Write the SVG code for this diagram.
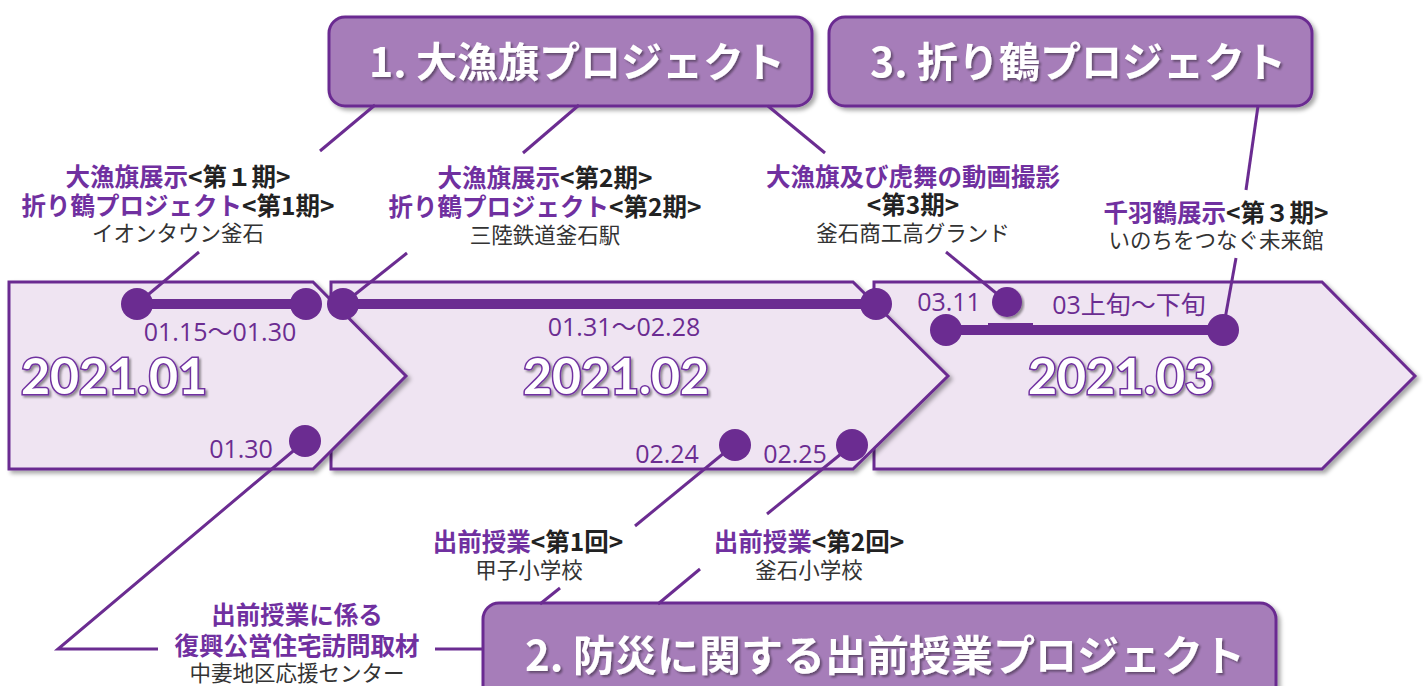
<svg xmlns="http://www.w3.org/2000/svg" width="1423" height="686" viewBox="0 0 1423 686">
<defs>
<filter id="sh" x="-5%" y="-5%" width="115%" height="120%"><feDropShadow dx="3" dy="3" stdDeviation="2" flood-color="#000" flood-opacity="0.35"/></filter>
<filter id="tsh" x="-5%" y="-10%" width="115%" height="130%"><feDropShadow dx="2" dy="2" stdDeviation="1" flood-color="#000" flood-opacity="0.4"/></filter>
</defs>
<style>
.chev{fill:#efe4f2;stroke:#6b2c91;stroke-width:3;stroke-linejoin:miter;filter:url(#sh)}
.ban{fill:#a67db9;stroke:#6b2c91;stroke-width:3;filter:url(#sh)}
.bt{font-family:"Noto Sans CJK JP",sans-serif;font-weight:700;fill:#fff;text-anchor:middle;filter:url(#tsh)}
.yr{font-family:Lato,"Open Sans",sans-serif;font-weight:700;font-size:50px;fill:#fff;stroke:#7030a0;stroke-width:3;paint-order:stroke;text-anchor:middle;filter:url(#tsh)}
.dt{font-family:"Open Sans","Noto Sans CJK JP",sans-serif;font-size:25px;fill:#6b2c91;text-anchor:middle}
.lb{font-family:"Noto Sans CJK JP",sans-serif;font-size:24.5px;font-weight:700;fill:#222;text-anchor:middle}
.p{fill:#7030a0}
.loc{font-family:"Noto Sans CJK JP",sans-serif;font-size:21.5px;fill:#333;text-anchor:middle}
.cn{stroke:#6b2c91;stroke-width:3;fill:none}
.bar{stroke:#6b2c91;stroke-width:10}
.dot{fill:#6b2c91}
</style>

<g id="chevron-2021-03">
<path class="chev" d="M874,282 H1322 L1415,376 L1322,469 H874 Z"/>
<text class="yr" x="1121" y="394">2021.03</text>
</g>
<g id="chevron-2021-02">
<path class="chev" d="M331,282 H853 L948,376 L853,469 H331 Z"/>
<text class="yr" x="616" y="394">2021.02</text>
</g>
<g id="chevron-2021-01">
<path class="chev" d="M9,282 H313 L406,376 L313,469 H9 Z"/>
<text class="yr" x="114" y="394">2021.01</text>
</g>

<g id="banner-1">
<rect class="ban" x="329" y="17" width="483" height="89" rx="16"/>
<text class="bt" x="577" y="77" font-size="41">1. 大漁旗プロジェクト</text>
</g>
<g id="banner-3">
<rect class="ban" x="829" y="17" width="483" height="89" rx="16"/>
<text class="bt" x="1078" y="77" font-size="41">3. 折り鶴プロジェクト</text>
</g>
<g id="banner-2">
<rect class="ban" x="483" y="603" width="793" height="110" rx="16"/>
<text class="bt" x="885" y="671" font-size="42">2. 防災に関する出前授業プロジェクト</text>
</g>

<g id="connectors">
<line class="cn" x1="375" y1="105" x2="320" y2="151"/>
<line class="cn" x1="199" y1="252" x2="137" y2="304"/>
<line class="cn" x1="579" y1="105" x2="523" y2="153"/>
<line class="cn" x1="407" y1="253" x2="343" y2="304"/>
<line class="cn" x1="768" y1="106" x2="825" y2="153"/>
<line class="cn" x1="946" y1="252" x2="1007" y2="302"/>
<line class="cn" x1="1258" y1="106" x2="1246" y2="190"/>
<line class="cn" x1="1236" y1="258" x2="1223" y2="330"/>
<line class="cn" x1="735" y1="444" x2="635" y2="526"/>
<line class="cn" x1="560" y1="588" x2="540" y2="604"/>
<line class="cn" x1="852" y1="445" x2="767" y2="514"/>
<line class="cn" x1="700" y1="569" x2="658" y2="604"/>
<polyline class="cn" points="305,441 58,649 158,649"/>
<line class="cn" x1="435" y1="649" x2="483" y2="649"/>
<line class="bar" x1="137" y1="304" x2="306" y2="304"/>
<line class="bar" x1="343" y1="304" x2="876" y2="304"/>
<line class="bar" x1="946" y1="330" x2="1223" y2="330"/>
<line stroke="#6b2c91" stroke-width="2" x1="988" y1="324" x2="1033" y2="324"/>
</g>

<g id="markers">
<circle class="dot" cx="137" cy="304" r="16"/>
<circle class="dot" cx="306" cy="304" r="16"/>
<circle class="dot" cx="343" cy="304" r="16"/>
<circle class="dot" cx="876" cy="304" r="16"/>
<circle class="dot" cx="1007" cy="302" r="15" filter="url(#tsh)"/>
<circle class="dot" cx="946" cy="330" r="16"/>
<circle class="dot" cx="1223" cy="330" r="16"/>
<circle class="dot" cx="305" cy="441" r="16"/>
<circle class="dot" cx="735" cy="445" r="16"/>
<circle class="dot" cx="852" cy="445" r="16"/>
</g>

<g id="dates">
<text class="dt" x="220" y="341">01.15〜01.30</text>
<text class="dt" x="624" y="336">01.31〜02.28</text>
<text class="dt" x="949" y="311">03.11</text>
<text class="dt" x="1129" y="314" font-size="26">03上旬〜下旬</text>
<text class="dt" x="241" y="458">01.30</text>
<text class="dt" x="667" y="463">02.24</text>
<text class="dt" x="795" y="463">02.25</text>
</g>

<g id="label-a">
<text class="lb" x="178" y="185.5"><tspan class="p">大漁旗展示</tspan>&lt;第１期&gt;</text>
<text class="lb" x="178" y="214.5"><tspan class="p">折り鶴プロジェクト</tspan>&lt;第1期&gt;</text>
<text class="loc" x="178" y="240.5">イオンタウン釜石</text>
</g>
<g id="label-b">
<text class="lb" x="545" y="186.5"><tspan class="p">大漁旗展示</tspan>&lt;第2期&gt;</text>
<text class="lb" x="545" y="216"><tspan class="p">折り鶴プロジェクト</tspan>&lt;第2期&gt;</text>
<text class="loc" x="545" y="243">三陸鉄道釜石駅</text>
</g>
<g id="label-c">
<text class="lb p" x="913" y="185.5">大漁旗及び虎舞の動画撮影</text>
<text class="lb" x="913" y="213.5">&lt;第3期&gt;</text>
<text class="loc" x="913" y="241">釜石商工高グランド</text>
</g>
<g id="label-d">
<text class="lb" x="1216" y="221.5"><tspan class="p">千羽鶴展示</tspan>&lt;第３期&gt;</text>
<text class="loc" x="1216" y="248">いのちをつなぐ未来館</text>
</g>
<g id="label-e">
<text class="lb" x="528" y="550.5"><tspan class="p">出前授業</tspan>&lt;第1回&gt;</text>
<text class="loc" x="529" y="578">甲子小学校</text>
</g>
<g id="label-f">
<text class="lb" x="809" y="550.5"><tspan class="p">出前授業</tspan>&lt;第2回&gt;</text>
<text class="loc" x="809" y="578">釜石小学校</text>
</g>
<g id="label-g">
<text class="lb p" x="297" y="624">出前授業に係る</text>
<text class="lb p" x="297" y="655">復興公営住宅訪問取材</text>
<text class="loc" x="297" y="681">中妻地区応援センター</text>
</g>
</svg>
